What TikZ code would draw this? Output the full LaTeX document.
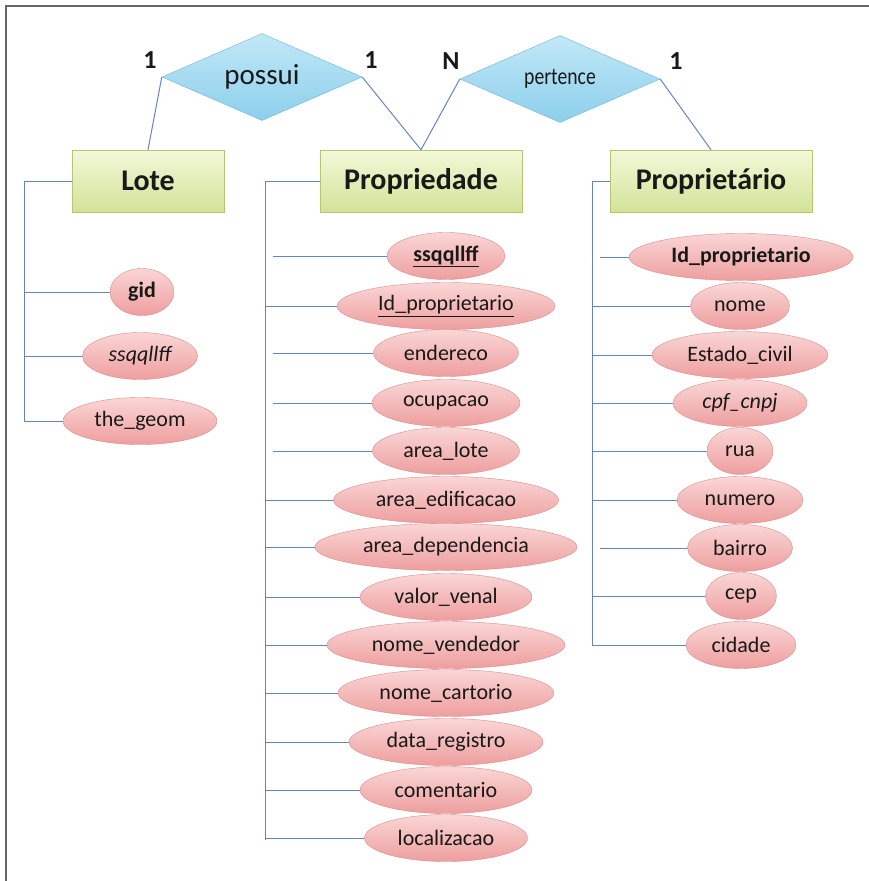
\documentclass[tikz,border=0pt]{standalone}
\usepackage{fontspec}
\setmainfont{Carlito}
\newfontfamily\narrowfont[FakeStretch=0.82]{Carlito}
\usepackage{tikz}
\usetikzlibrary{positioning,shapes.geometric}
\definecolor{attrtop}{HTML}{FAD6D6}
\definecolor{attrbot}{HTML}{EE9E9E}
\definecolor{attrline}{HTML}{D88C8C}
\definecolor{enttop}{HTML}{F3F8D9}
\definecolor{entbot}{HTML}{D2E398}
\definecolor{entline}{HTML}{B4C672}
\definecolor{reltop}{HTML}{C2E8F7}
\definecolor{relbot}{HTML}{8CCFEC}
\definecolor{relline}{HTML}{6FB4D2}
\definecolor{linkblue}{HTML}{6585BD}
\tikzset{
  entity/.style={shape=rectangle,draw=entline,top color=enttop,bottom color=entbot,
    minimum width=202pt,minimum height=62pt,inner sep=0pt,
    font=\fontsize{30}{32}\selectfont\bfseries},
  relation/.style={shape=diamond,draw=relline,top color=reltop,bottom color=relbot,
    aspect=2.3,minimum width=200pt,minimum height=87pt,inner sep=0pt},
  attr/.style={shape=ellipse,draw=attrline,top color=attrtop,bottom color=attrbot,
    minimum height=47pt,inner sep=0pt,font=\fontsize{22}{24}\selectfont},
  card/.style={font=\fontsize{26}{28}\selectfont\bfseries},
  link/.style={draw=linkblue,line width=1pt}
}
\begin{document}
\begin{tikzpicture}[x=1pt,y=-1pt,text=black!90]
    \useasboundingbox (0,0) rectangle (869,881);
    \draw [gray!80!black,line width=2pt] (6,881) -- (6,6) -- (869,6);
    % relations
    \node (possui) [relation,font=\fontsize{29}{31}\selectfont] at (262,77) {possui};
    \node (pertence) [relation,font=\narrowfont\fontsize{24}{26}\selectfont] at (560,79) {pertence};
    \node (c1) [card] at (150,60) {1};
    \node (c2) [card] at (371,60) {1};
    \node (c3) [card] at (451,61) {N};
    \node (c4) [card] at (676,61) {1};
    % entities
    \node (lote) [entity,minimum width=152pt] at (148,181) {Lote};
    \node (prop) [entity] at (421,181) {Propriedade};
    \node (dono) [entity] at (711,181) {Propriet\'ario};
    \draw [link] (possui.west) -- (lote.north);
    \draw [link] (possui.east) -- (prop.north);
    \draw [link] (pertence.west) -- (prop.north);
    \draw [link] (pertence.east) -- (dono.north);
    % Lote
    \coordinate (ltop) at (24,181);
    \coordinate (lbot) at (24,421);
    \node (l1) [attr,minimum width=64pt] at (142,292) {\bfseries gid};
    \node (l2) [attr,minimum width=115pt] at (140,356) {\itshape ssqqllff};
    \node (l3) [attr,minimum width=154pt] at (140,421) {the\_geom};
    \draw [link] (lote.west) -- (ltop) -- (lbot);
    \draw [link] (ltop |- l1.west) -- (l1.west);
    \draw [link] (ltop |- l2.west) -- (l2.west);
    \draw [link] (ltop |- l3.west) -- (l3.west);
    % Propriedade
    \coordinate (ptop) at (265,181);
    \coordinate (pbot) at (265,840);
    \node (p1) [attr,minimum width=118pt] at (446,256) {\bfseries\underline{ssqqllff}};
    \node (p2) [attr,minimum width=218pt] at (446,306) {\underline{Id\_proprietario}};
    \node (p3) [attr,minimum width=145pt] at (446,353) {endereco};
    \node (p4) [attr,minimum width=148pt] at (446,403) {ocupacao};
    \node (p5) [attr,minimum width=147pt] at (446,451) {area\_lote};
    \node (p6) [attr,minimum width=225pt] at (446,500) {area\_edificacao};
    \node (p7) [attr,minimum width=262pt] at (446,547) {area\_dependencia};
    \node (p8) [attr,minimum width=172pt] at (446,597) {valor\_venal};
    \node (p9) [attr,minimum width=238pt] at (446,645) {nome\_vendedor};
    \node (p10) [attr,minimum width=216pt] at (446,693) {nome\_cartorio};
    \node (p11) [attr,minimum width=194pt] at (446,742) {data\_registro};
    \node (p12) [attr,minimum width=172pt] at (446,790) {comentario};
    \node (p13) [attr,minimum width=163pt] at (446,838) {localizacao};
    \draw [link] (prop.west) -- (ptop) -- (pbot);
    \draw [link,shorten <=8pt] (ptop |- p1.west) -- (p1.west);
    \draw [link] (ptop |- p2.west) -- (p2.west);
    \draw [link,shorten <=8pt] (ptop |- p3.west) -- (p3.west);
    \draw [link,shorten <=8pt] (ptop |- p4.west) -- (p4.west);
    \draw [link,shorten <=8pt] (ptop |- p5.west) -- (p5.west);
    \draw [link] (ptop |- p6.west) -- (p6.west);
    \draw [link] (ptop |- p7.west) -- (p7.west);
    \draw [link] (ptop |- p8.west) -- (p8.west);
    \draw [link] (ptop |- p9.west) -- (p9.west);
    \draw [link] (ptop |- p10.west) -- (p10.west);
    \draw [link] (ptop |- p11.west) -- (p11.west);
    \draw [link] (ptop |- p12.west) -- (p12.west);
    \draw [link] (ptop |- p13.west) -- (p13.west);
    % Proprietario
    \coordinate (dtop) at (592,181);
    \coordinate (dbot) at (592,646);
    \node (d1) [attr,minimum width=224pt] at (741,257) {\bfseries Id\_proprietario};
    \node (d2) [attr,minimum width=99pt] at (740,306) {nome};
    \node (d3) [attr,minimum width=176pt] at (740,355) {Estado\_civil};
    \node (d4) [attr,minimum width=134pt] at (740,403) {\itshape cpf\_cnpj};
    \node (d5) [attr,minimum width=66pt] at (740,451) {rua};
    \node (d6) [attr,minimum width=126pt] at (740,500) {numero};
    \node (d7) [attr,minimum width=105pt] at (740,548) {bairro};
    \node (d8) [attr,minimum width=71pt] at (741,596) {cep};
    \node (d9) [attr,minimum width=110pt] at (741,645) {cidade};
    \draw [link] (dono.west) -- (dtop) -- (dbot);
    \draw [link,shorten <=8pt] (dtop |- d1.west) -- (d1.west);
    \draw [link] (dtop |- d2.west) -- (d2.west);
    \draw [link] (dtop |- d3.west) -- (d3.west);
    \draw [link] (dtop |- d4.west) -- (d4.west);
    \draw [link] (dtop |- d5.west) -- (d5.west);
    \draw [link] (dtop |- d6.west) -- (d6.west);
    \draw [link,shorten <=8pt] (dtop |- d7.west) -- (d7.west);
    \draw [link] (dtop |- d8.west) -- (d8.west);
    \draw [link] (dtop |- d9.west) -- (d9.west);
\end{tikzpicture}
\end{document}
